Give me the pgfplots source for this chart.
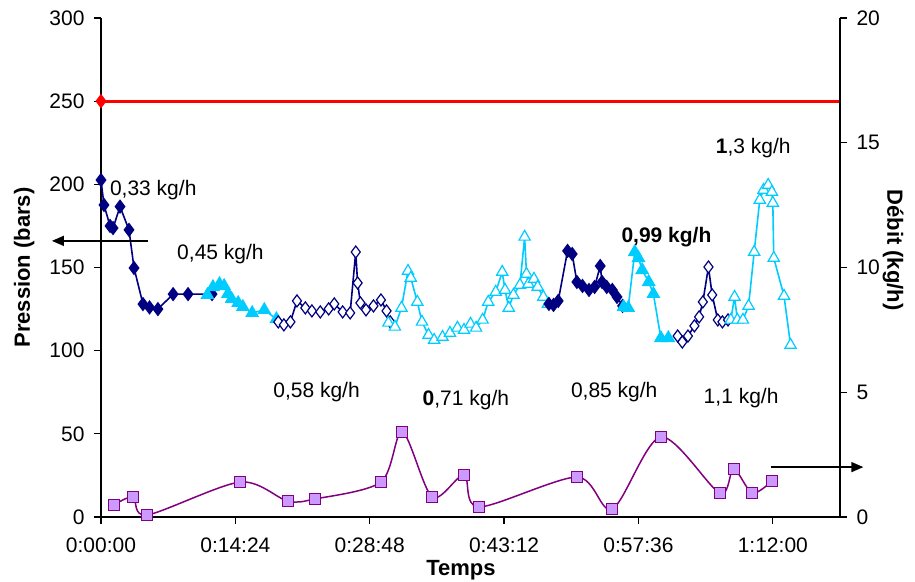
\documentclass[border=0pt]{standalone}
\usepackage{pgfplots}
\pgfplotsset{compat=1.18}
\usetikzlibrary{arrows.meta}
\usepackage{fontspec}
\setmainfont{Liberation Sans}
\definecolor{navy}{RGB}{0,0,128}
\definecolor{sky}{RGB}{0,204,255}
\definecolor{purp}{RGB}{128,0,128}
\definecolor{lilac}{RGB}{204,153,255}
\newcommand{\tf}{\fontsize{21bp}{25bp}\selectfont}
\newcommand{\lf}{\fontsize{22bp}{26bp}\selectfont\bfseries}
\begin{document}
\begin{tikzpicture}
\useasboundingbox (0,0) rectangle (915bp,582bp);
\pgfplotsset{
  common/.style={
    at={(101bp,65bp)}, anchor=south west, scale only axis,
    width=739bp, height=499bp,
    xmin=0, xmax=79.2,
    tick align=outside, major tick length=7bp,
    axis line style={black, line width=1.2bp},
    tick style={black, line width=1.2bp},
    tick label style={font=\tf},
    /pgf/number format/assume math mode=true,
    label style={font=\lf},
    clip=false,
  }
}
\begin{axis}[common,
  ymin=0, ymax=300, ytick={0,50,...,300},
  axis x line*=bottom, axis y line*=left,
  xtick={0,14.4,28.8,43.2,57.6,72},
  xticklabels={0:00:00,0:14:24,0:28:48,0:43:12,0:57:36,1:12:00},
  xticklabel style={yshift=-10bp},
  yticklabel style={xshift=-6bp},
  xlabel={Temps}, ylabel={Pression (bars)},
  xlabel style={at={(axis description cs:0.487,-0.106)}, anchor=center},
  ylabel style={at={(axis description cs:-0.104,0.5)}, anchor=center},
]
% red max pressure line
\addplot[red, line width=2.8bp, mark=diamond*, mark size=5bp, mark indices={1}] coordinates {(0,250) (79.2,250)};
% 0,33 kg/h
\addplot[navy, line width=1.6bp, mark=diamond*, mark size=6bp, mark options={fill=navy}] coordinates {
(0,202.6) (0.32,187.6) (0.97,175) (1.29,173.7) (2.04,186.6) (3.0,172.6) (3.54,149.7)
(4.5,128) (5.2,126) (6.1,125) (7.73,134) (9.33,134) (11.9,134)};
% 0,45 kg/h
\addplot[sky, line width=1.6bp, mark=triangle*, mark size=6.5bp, mark options={fill=sky}] coordinates {
(11.4,133.5) (12.0,138.3) (12.7,140.1) (13.2,138.9) (13.6,134.1) (14.0,131.1) (14.7,128.7)
(15.2,126.3) (16.2,122.7) (17.5,124.5) (18.8,119)};
% 0,58 kg/h
\addplot[navy, line width=1.6bp, mark=diamond*, mark size=6bp, mark options={fill=white, line width=1.2bp}] coordinates {
(19.0,117.3) (19.6,115.5) (20.3,117.3) (21.0,129.9) (21.9,125.7) (22.6,123.9) (23.5,123.3)
(24.4,125.1) (25.0,128.1) (25.9,123.3) (26.7,122.7) (27.3,159.3) (27.5,140.7) (27.8,128.7)
(28.4,124.5) (29.2,126.9) (30.0,130.5) (30.6,123.9) (31.0,117.3)};
% 0,71 kg/h
\addplot[sky, line width=1.6bp, mark=triangle*, mark size=6.5bp, mark options={fill=white, line width=1.2bp}] coordinates {
(30.8,116.7) (31.5,114.3) (32.2,125.7) (32.9,147.9) (33.2,143.7) (33.9,129.3) (34.4,117.3)
(35.1,109.4) (35.7,106.4) (36.6,108.2) (37.4,110.6) (38.2,113.7) (38.9,112.4) (39.6,116.1)
(40.2,113.7) (40.9,118.5) (41.5,129.3) (42.3,135.3) (43.0,147.3) (43.3,136.5) (43.7,125.7)
(44.2,133.5) (44.9,139.5) (45.4,168.4) (45.6,146.1) (45.8,140.1) (46.4,143.1) (46.8,138.3)
(47.4,132.3) (47.9,128.1)};
% 0,85 kg/h
\addplot[navy, line width=1.6bp, mark=diamond*, mark size=6bp, mark options={fill=navy}] coordinates {
(48.0,128.1) (48.5,127.5) (49.0,129.9) (50.0,160.0) (50.5,158.1) (51.0,141.3) (51.6,138.9)
(52.3,136.5) (52.9,138.3) (53.5,150.9) (53.7,141.3) (54.2,138.3) (54.8,136.5) (55.3,132.3)
(55.9,126.9)};
% 0,99 kg/h
\addplot[sky, line width=1.6bp, mark=triangle*, mark size=6.5bp, mark options={fill=sky}] coordinates {
(56.0,126.3) (56.5,125.7) (57.2,159.3) (57.6,155.7) (58.0,148.5) (58.7,141.3) (59.2,134.1)
(60.0,107.6) (60.8,107.6)};
% 1,1 kg/h
\addplot[navy, line width=1.6bp, mark=diamond*, mark size=6bp, mark options={fill=white, line width=1.2bp}] coordinates {
(61.8,108.8) (62.3,105.2) (62.9,108.8) (63.6,114.9) (64.1,120.3) (64.5,129.3) (65.1,150.3)
(65.5,133.5) (66.1,118.5) (66.6,117.3) (67.2,118.5)};
% 1,3 kg/h
\addplot[sky, line width=1.6bp, mark=triangle*, mark size=6.5bp, mark options={fill=white, line width=1.2bp}] coordinates {
(67.5,118.5) (67.9,132.3) (68.2,118.5) (68.8,118.5) (69.4,126.9) (70.0,159.3) (70.6,190.6)
(71.0,196.6) (71.5,199.6) (71.9,195.4) (72.0,188.8) (72.1,155.7) (73.2,132.9) (73.9,103.4)};
% annotations
\node[font=\tf] at (axis cs:5.6,196.6) {0,33 kg/h};
\node[font=\tf] at (axis cs:12.8,158) {0,45 kg/h};
\node[font=\tf] at (axis cs:23.1,75) {0,58 kg/h};
\node[font=\tf] at (axis cs:39.1,70.4) {\textbf{0},71 kg/h};
\node[font=\tf] at (axis cs:55.0,75) {0,85 kg/h};
\node[font=\tf] at (axis cs:68.6,71.6) {1,1 kg/h};
\node[font=\tf\bfseries] at (axis cs:60.6,168.4) {0,99 kg/h};
\node[font=\tf] at (axis cs:69.9,222) {\textbf{1},3 kg/h};
% arrows
\draw[black, line width=1.5bp, -{Triangle[length=12bp,width=10bp]}] (axis cs:5.04,166) -- (axis cs:-5.26,166);
\draw[black, line width=1.5bp, -{Triangle[length=12bp,width=10bp]}] (axis cs:71.8,30) -- (axis cs:81.7,30);
\end{axis}
\begin{axis}[common,
  ymin=0, ymax=20, ytick={0,5,...,20},
  axis x line=none, axis y line*=right,
  yticklabel style={xshift=6bp},
  ylabel={Débit (kg/h)},
  ylabel style={at={(axis description cs:1.072,0.535)}, anchor=center, rotate=180},
]
\addplot[purp, line width=1.5bp, smooth, tension=0.5, mark=square*, mark size=5.5bp, mark options={fill=lilac, line width=1.2bp}] coordinates {
(1.39,0.48) (3.43,0.80) (4.94,0.08) (14.9,1.40) (20.0,0.64) (22.9,0.72) (30.0,1.40)
(32.3,3.41) (35.5,0.80) (38.9,1.68) (40.5,0.40) (51.0,1.60) (54.8,0.32) (60.0,3.21)
(66.3,0.96) (67.8,1.92) (69.8,0.96) (71.9,1.44)};
\end{axis}
\end{tikzpicture}
\end{document}
